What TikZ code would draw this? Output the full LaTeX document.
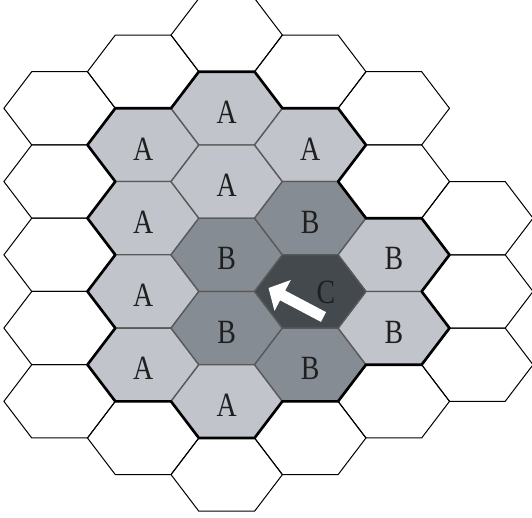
\documentclass[tikz,border=0pt]{standalone}
\usepackage{fontspec}
\setmainfont{Liberation Serif}[FakeStretch=0.82]
\usetikzlibrary{arrows.meta}

\definecolor{cellA}{RGB}{193,196,203}
\definecolor{cellB}{RGB}{134,140,147}
\definecolor{cellC}{RGB}{67,73,76}

\tikzset{
  hexagon/.pic={
    \path[pic actions] (-27.85,-36.63) -- (27.85,-36.63) -- (55.7,0) -- (27.85,36.63)
      -- (-27.85,36.63) -- (-55.7,0) -- cycle;
  }
}

\begin{document}
\begin{tikzpicture}[
    x=0.3mm, y=-0.3mm,
    blank/.style={draw=black, line width=0.3mm},
    shaded/.style={draw=black!65, line width=0.4mm, line join=round},
    border/.style={draw=black, line width=0.8mm, line join=round},
    lbl/.style={font=\fontsize{29}{29}\selectfont, text=black!88, inner sep=0pt}
  ]
  \useasboundingbox (0,0) rectangle (532,518);
  \clip (0,0) rectangle (532,518);

  % empty cells (column / half-row)
  \foreach \c/\r in {0/2,0/4,0/6,0/8,0/10, 1/1,1/11, 2/0,2/12, 3/1,3/11,
                     4/2,4/4,4/10, 5/5,5/7,5/9}
    \pic[blank] at ({59.6+83.55*\c},{35.05+36.63*\r}) {hexagon};

  % shaded cells with their letters
  \foreach \c/\r/\tone/\txt in {1/3/cellA/A, 1/5/cellA/A, 1/7/cellA/A, 1/9/cellA/A,
                                 2/2/cellA/A, 2/4/cellA/A, 2/6/cellB/B, 2/8/cellB/B, 2/10/cellA/A,
                                 3/3/cellA/A, 3/5/cellB/B, 3/9/cellB/B,
                                 4/6/cellA/B, 4/8/cellA/B}
  {
    \pic[shaded, fill=\tone] at ({59.6+83.55*\c},{35.05+36.63*\r}) {hexagon};
    \node[lbl] (cell-\c-\r) at ({59.6+83.55*\c},{39.05+36.63*\r}) {\txt};
  }
  \pic[shaded, fill=cellC] at (310.25,291.46) {hexagon};
  \node[lbl] (cell-3-7) at (326,292.5) {C};

  % outline of the shaded area
  \draw[border] (198.85,71.68) -- (254.55,71.68) -- (282.4,108.31) -- (338.1,108.31)
    -- (365.95,144.94) -- (338.1,181.57) -- (365.95,218.2) -- (421.65,218.2)
    -- (449.5,254.83) -- (421.65,291.46) -- (449.5,328.09) -- (421.65,364.72)
    -- (365.95,364.72) -- (338.1,401.35) -- (282.4,401.35) -- (254.55,437.98)
    -- (198.85,437.98) -- (171,401.35) -- (115.3,401.35) -- (87.45,364.72)
    -- (115.3,328.09) -- (87.45,291.46) -- (115.3,254.83) -- (87.45,218.2)
    -- (115.3,181.57) -- (87.45,144.94) -- (115.3,108.31) -- (171,108.31) -- cycle;

  % move arrow
  \coordinate (tail) at (323.5,317);
  \coordinate (tip) at (268.5,288);
  \draw[white, line width=3.3mm, -{Triangle[length=4.8mm, width=10.2mm]}] (tail) -- (tip);
\end{tikzpicture}
\end{document}
